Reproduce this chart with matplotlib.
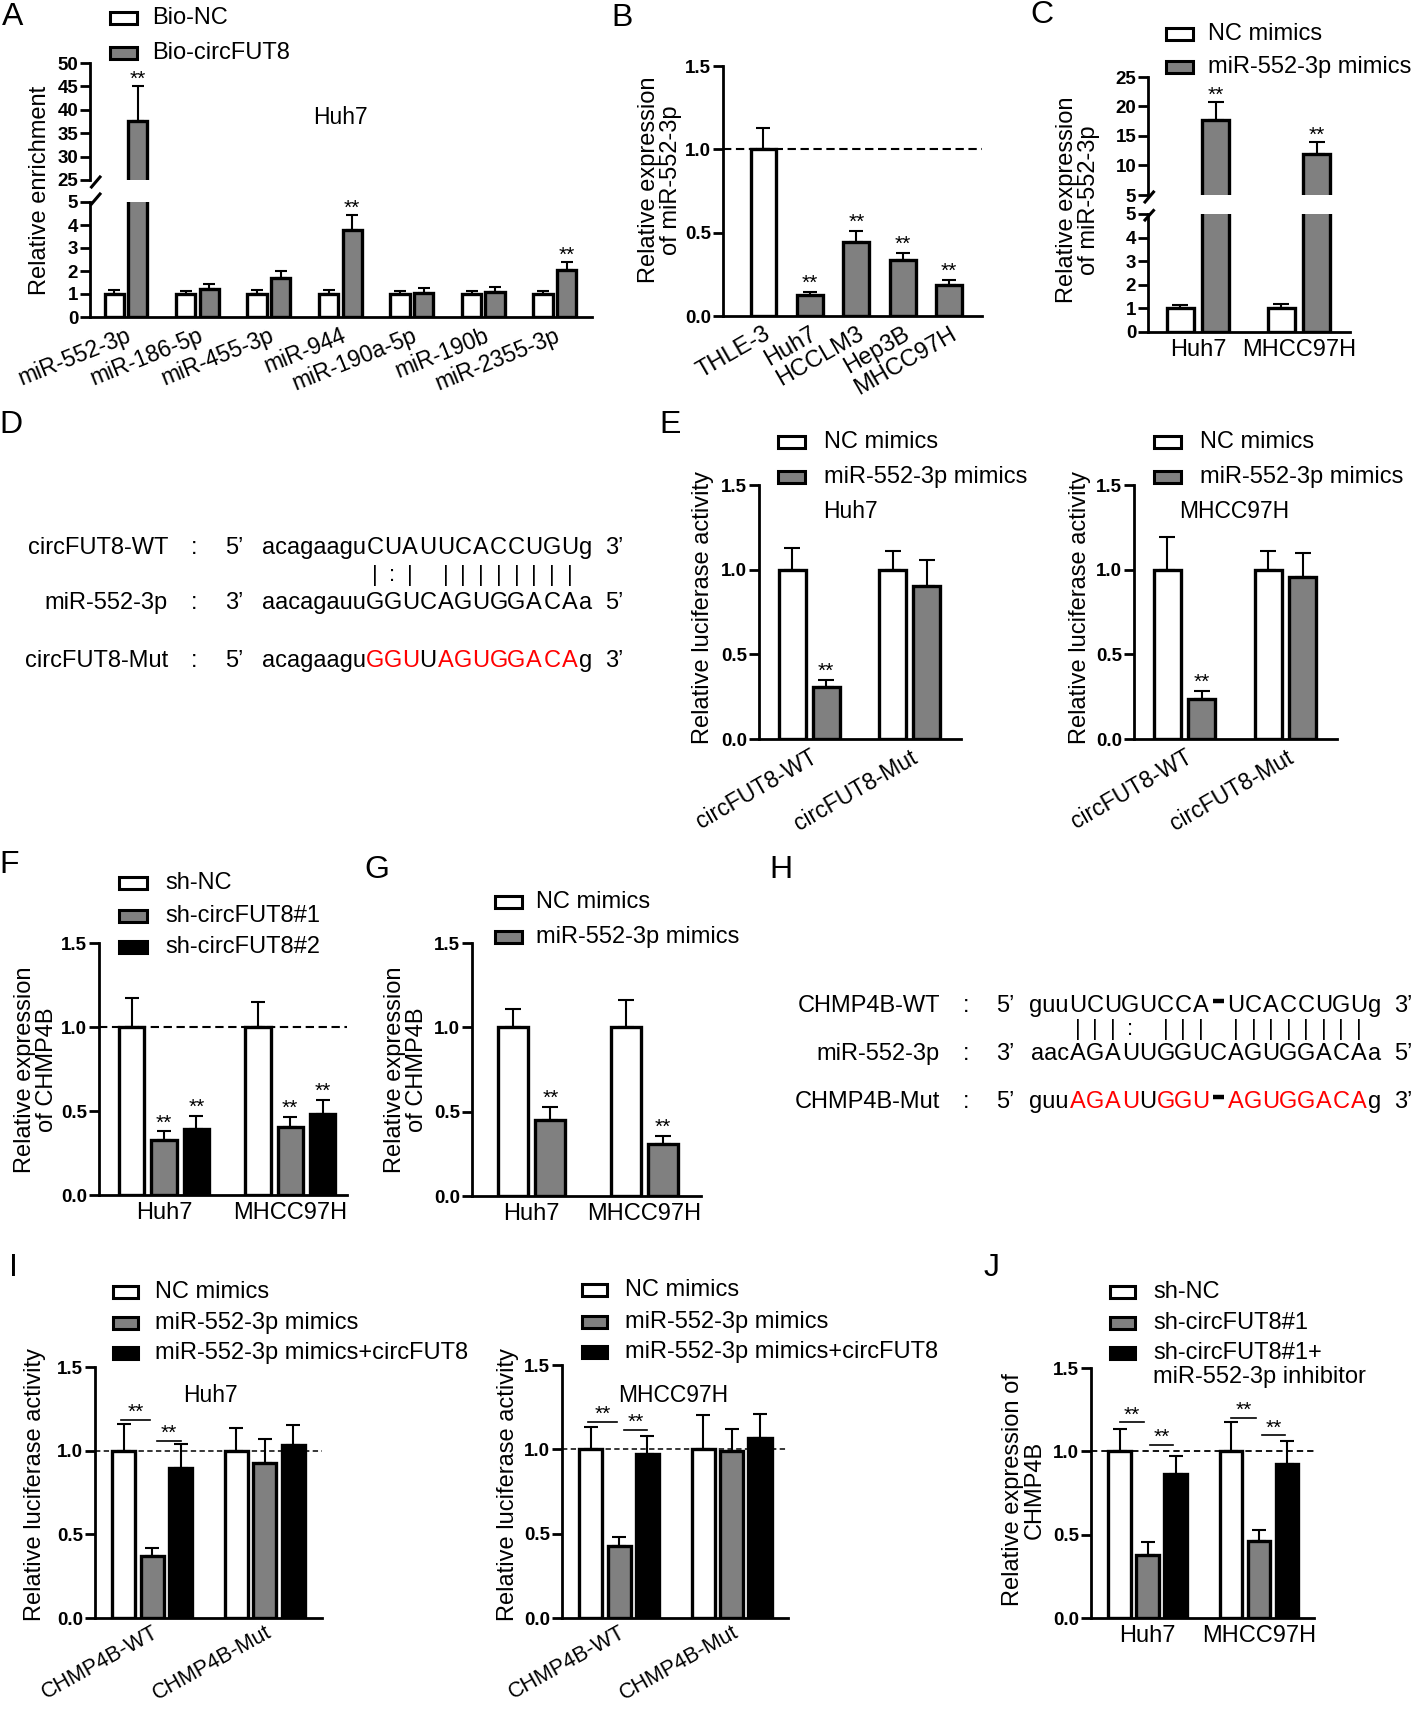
import numpy as np
import matplotlib
matplotlib.use("Agg")
import matplotlib.pyplot as plt
from matplotlib.patches import Rectangle
from matplotlib.lines import Line2D
from matplotlib import font_manager

# ---------------------------------------------------------------- data
A_cats = ["miR-552-3p", "miR-186-5p", "miR-455-3p", "miR-944", "miR-190a-5p", "miR-190b", "miR-2355-3p"]
A_nc = [1.0, 1.0, 1.0, 1.0, 1.0, 1.0, 1.0]
A_nc_err = [0.17, 0.11, 0.17, 0.19, 0.11, 0.11, 0.14]
A_circ = [37.5, 1.2, 1.68, 3.8, 1.04, 1.1, 2.03]
A_circ_err = [7.5, 0.22, 0.33, 0.63, 0.2, 0.19, 0.37]
A_stars = [True, False, False, True, False, False, True]
A_legend = ["Bio-NC", "Bio-circFUT8"]

B_cats = ["THLE-3", "Huh7", "HCCLM3", "Hep3B", "MHCC97H"]
B_vals = [1.0, 0.125, 0.445, 0.335, 0.185]
B_err = [0.128, 0.02, 0.067, 0.044, 0.032]
B_stars = [False, True, True, True, True]

C_cats = ["Huh7", "MHCC97H"]
C_nc = [1.0, 1.0]
C_nc_err = [0.16, 0.2]
C_mim = [17.7, 12.0]
C_mim_err = [3.1, 1.9]
C_legend = ["NC mimics", "miR-552-3p mimics"]

D_labels = ["circFUT8-WT", "miR-552-3p", "circFUT8-Mut"]
D_end5 = ["5\u2019", "3\u2019", "5\u2019"]
D_prefix = ["acagaagu", "aacagauu", "acagaagu"]
D_core = ["CUAUUCACCUGU", "GGUCAGUGGACA", "GGUUAGUGGACA"]
D_suffix = ["g", "a", "g"]
D_end3 = ["3\u2019", "5\u2019", "3\u2019"]
D_mut_red = "RRRKRRRRRRRR"
D_pairs = "|:| ||||||||"

E_cats = ["circFUT8-WT", "circFUT8-Mut"]
E_huh_nc = [1.0, 1.0]
E_huh_nc_err = [0.126, 0.11]
E_huh_mim = [0.31, 0.905]
E_huh_mim_err = [0.04, 0.155]
E_mh_nc = [1.0, 1.0]
E_mh_nc_err = [0.195, 0.112]
E_mh_mim = [0.236, 0.955]
E_mh_mim_err = [0.05, 0.145]
E_legend = ["NC mimics", "miR-552-3p mimics"]

F_cats = ["Huh7", "MHCC97H"]
F_nc = [1.0, 1.0]
F_nc_err = [0.17, 0.146]
F_sh1 = [0.328, 0.407]
F_sh1_err = [0.05, 0.06]
F_sh2 = [0.39, 0.483]
F_sh2_err = [0.08, 0.083]
F_legend = ["sh-NC", "sh-circFUT8#1", "sh-circFUT8#2"]

G_cats = ["Huh7", "MHCC97H"]
G_nc = [1.0, 1.0]
G_nc_err = [0.111, 0.164]
G_mim = [0.448, 0.307]
G_mim_err = [0.079, 0.051]
G_legend = ["NC mimics", "miR-552-3p mimics"]

H_labels = ["CHMP4B-WT", "miR-552-3p", "CHMP4B-Mut"]
H_end5 = ["5\u2019", "3\u2019", "5\u2019"]
H_prefix = ["guu", "aac", "guu"]
H_core = ["UCUGUCCA-UCACCUGU", "AGAUUGGUCAGUGGACA", "AGAUUGGU-AGUGGACA"]
H_suffix = ["g", "a", "g"]
H_end3 = ["3\u2019", "5\u2019", "3\u2019"]
H_mut_red = "RRRRKRRRKRRRRRRRR"
H_pairs = "|||: ||| ||||||||"

I_cats = ["CHMP4B-WT", "CHMP4B-Mut"]
I_huh_nc = [1.0, 1.0]
I_huh_nc_err = [0.162, 0.138]
I_huh_mim = [0.372, 0.924]
I_huh_mim_err = [0.045, 0.145]
I_huh_circ = [0.894, 1.033]
I_huh_circ_err = [0.143, 0.12]
I_huh_brackets = [1.186, 1.057]
I_mh_nc = [1.0, 1.0]
I_mh_nc_err = [0.134, 0.201]
I_mh_mim = [0.427, 0.99]
I_mh_mim_err = [0.054, 0.13]
I_mh_circ = [0.97, 1.065]
I_mh_circ_err = [0.11, 0.142]
I_mh_brackets = [1.164, 1.114]
I_legend = ["NC mimics", "miR-552-3p mimics", "miR-552-3p mimics+circFUT8"]

J_cats = ["Huh7", "MHCC97H"]
J_nc = [1.0, 1.0]
J_nc_err = [0.134, 0.176]
J_sh = [0.38, 0.46]
J_sh_err = [0.074, 0.07]
J_inh = [0.866, 0.924]
J_inh_err = [0.104, 0.14]
J_brackets1 = [1.174, 1.2]
J_brackets2 = [1.04, 1.096]
J_legend = ["sh-NC", "sh-circFUT8#1", "sh-circFUT8#1+", "miR-552-3p inhibitor"]

# ---------------------------------------------------------------- setup
W, H = 1416, 1710
fig = plt.figure(figsize=(W / 100, H / 100), dpi=100)
avail = {f.name for f in font_manager.fontManager.ttflist}
FONT = "Liberation Sans" if "Liberation Sans" in avail else "DejaVu Sans"
plt.rcParams["font.family"] = [FONT, "DejaVu Sans"]

GRAY = "#808080"
SPINE = 2.0
BAR_LW = 2.4
TICK_FS = 13.5
LAB_FS = 17
CAT_FS = 17
LEG_FS = 17


def ftext(x, y, s, **kw):
    return fig.text(x / W, 1 - y / H, s, **kw)


def fline(xs, ys, **kw):
    fig.add_artist(Line2D([x / W for x in xs], [1 - y / H for y in ys],
                          transform=fig.transFigure, color="black", **kw))


def make_ax(x0, ytop, x1, ybot, bottom=True):
    ax = fig.add_axes([x0 / W, 1 - ybot / H, (x1 - x0) / W, (ybot - ytop) / H])
    ax.patch.set_alpha(0)
    for s in ("top", "right"):
        ax.spines[s].set_visible(False)
    ax.spines["left"].set_linewidth(SPINE)
    ax.spines["bottom"].set_linewidth(SPINE)
    if not bottom:
        ax.spines["bottom"].set_visible(False)
    ax.tick_params(axis="y", width=SPINE, length=7, labelsize=TICK_FS, pad=1.5)
    ax.tick_params(axis="x", length=0, labelsize=CAT_FS, pad=5)
    return ax


def set_yt(ax, ticks, labels):
    ax.set_yticks(ticks)
    ax.set_yticklabels(labels, fontweight="bold")


def grouped(ax, series, errs, colors, pitch, width, stars=None, ymax=None, ymin=None, cap=5):
    k = len(series)
    n = len(series[0])
    base = np.arange(n)
    xs = []
    for i in range(k):
        x = base + (i - (k - 1) / 2) * pitch
        v = np.asarray(series[i], float)
        e = np.asarray(errs[i], float)
        ax.errorbar(x, v, yerr=[np.zeros(n), e], fmt="none", ecolor="black",
                    elinewidth=1.5, capsize=cap, capthick=1.5, zorder=2)
        ax.bar(x, v, width, color=colors[i], edgecolor="black", linewidth=BAR_LW, zorder=3)
        if stars is not None:
            for xi, vi, ei, s in zip(x, v, e, stars[i]):
                top = vi + ei
                if not s:
                    continue
                if ymax is not None and top > ymax:
                    continue
                if ymin is not None and top < ymin:
                    continue
                ax.text(xi, top + (ax.get_ylim()[1] - ax.get_ylim()[0]) * 0.012, "**",
                        ha="center", va="baseline", fontsize=15)
        xs.append(x)
    return xs


def legend_px(x_box, ys, colors, labels, x_text, w=27, h=12, fs=LEG_FS):
    for y, c, lab in zip(ys, colors, labels):
        fig.add_artist(Rectangle((x_box / W, 1 - (y + h / 2) / H), w / W, h / H,
                                 transform=fig.transFigure, facecolor=c,
                                 edgecolor="black", lw=2.2))
        ftext(x_text, y, lab, ha="left", va="center", fontsize=fs)


def dashed(ax, lw=1.5, pat=(4, 2.2)):
    ax.axhline(1.0, color="black", lw=lw, linestyle=(0, pat), zorder=1)


def bracket(ax, x1, x2, y):
    ax.plot([x1, x2], [y, y], color="black", lw=1.2, zorder=4)
    ax.text((x1 + x2) / 2, y + 0.012, "**", ha="center", va="baseline", fontsize=15)


def rot_labels(ax, labels, rot, fs=CAT_FS, pad=5):
    ax.set_xticks(np.arange(len(labels)))
    ax.set_xticklabels(labels, rotation=rot, ha="right", va="top",
                       rotation_mode="anchor", fontsize=fs)
    ax.tick_params(axis="x", pad=pad)


def panel_letter(x, y, s):
    ftext(x, y, s, ha="center", va="center", fontsize=23)


def ylabel(x, y, s, fs=LAB_FS):
    ftext(x, y, s, rotation=90, ha="center", va="center", fontsize=fs,
          linespacing=1.0, multialignment="center")


lim01 = [0.0, 0.5, 1.0, 1.5]
lab01 = ["0.0", "0.5", "1.0", "1.5"]

# ---------------------------------------------------------------- A
A_lo = make_ax(90, 202, 592, 317)
A_hi = make_ax(90, 63, 592, 180, bottom=False)
for ax in (A_lo, A_hi):
    ax.set_xlim(-0.503, 6.52)
A_lo.set_ylim(0, 5)
A_hi.set_ylim(25, 50)
for ax, ymx, ymn in ((A_lo, 5, None), (A_hi, None, 25)):
    grouped(ax, [A_nc, A_circ], [A_nc_err, A_circ_err], ["white", GRAY], 0.33, 0.27,
            stars=[[False] * 7, A_stars], ymax=ymx, ymin=ymn, cap=4.5)
set_yt(A_lo, [0, 1, 2, 3, 4, 5], ["0", "1", "2", "3", "4", "5"])
set_yt(A_hi, [25, 30, 35, 40, 45, 50], ["25", "30", "35", "40", "45", "50"])
A_hi.set_xticks([])
rot_labels(A_lo, A_cats, 22, fs=16.5)
fline([91.5, 100], [187, 177], lw=2.2)
fline([91.5, 100], [204, 194], lw=2.2)
ylabel(40, 190, "Relative enrichment")
ftext(340, 118, "Huh7", ha="center", va="center", fontsize=16.5)
legend_px(110, [18, 53], ["white", GRAY], A_legend, 152)
panel_letter(13, 17, "A")

# ---------------------------------------------------------------- B
B_ax = make_ax(723, 66, 982, 316)
B_ax.set_xlim(-0.873, 4.71)
B_ax.set_ylim(0, 1.5)
dashed(B_ax)
grouped(B_ax, [B_vals], [B_err], [["white", GRAY, GRAY, GRAY, GRAY]], 0, 0.56,
        stars=[B_stars], cap=5)
set_yt(B_ax, lim01, lab01)
rot_labels(B_ax, B_cats, 30)
ylabel(660, 180, "Relative expression\nof miR-552-3p")
panel_letter(622, 18, "B")

# ---------------------------------------------------------------- C
C_lo = make_ax(1148, 214, 1350, 332)
C_hi = make_ax(1148, 77, 1350, 195, bottom=False)
for ax in (C_lo, C_hi):
    ax.set_xlim(-0.495, 1.505)
C_lo.set_ylim(0, 5)
C_hi.set_ylim(5, 25)
for ax, ymx, ymn in ((C_lo, 5, None), (C_hi, None, 5)):
    grouped(ax, [C_nc, C_mim], [C_nc_err, C_mim_err], ["white", GRAY], 0.35, 0.27,
            stars=[[False, False], [True, True]], ymax=ymx, ymin=ymn, cap=6)
set_yt(C_lo, [0, 1, 2, 3, 4, 5], ["0", "1", "2", "3", "4", "5"])
set_yt(C_hi, [5, 10, 15, 20, 25], ["5", "10", "15", "20", "25"])
C_hi.set_xticks([])
C_lo.set_xticks([0, 1])
C_lo.set_xticklabels(C_cats, fontsize=CAT_FS)
fline([1145, 1153.5], [202, 192], lw=2.2)
fline([1145, 1153.5], [220, 210.5], lw=2.2)
ylabel(1078, 200, "Relative expression\nof miR-552-3p")
legend_px(1166, [34, 67], ["white", GRAY], C_legend, 1208)
panel_letter(1042, 15, "C")


# ---------------------------------------------------------------- sequences
def draw_seq(label_x, colon_x, p5_x, core_x0, pitch, end_x, baselines, labels, end5,
             prefix, core, suffix, end3, red_mask, pairs, pair_y, size=17):
    for r in range(3):
        y = baselines[r]
        ftext(label_x, y, labels[r], ha="right", va="baseline", fontsize=size)
        ftext(colon_x, y, ":", ha="center", va="baseline", fontsize=size)
        ftext(p5_x, y, end5[r], ha="left", va="baseline", fontsize=size)
        ftext(core_x0, y, prefix[r], ha="right", va="baseline", fontsize=size)
        for i, ch in enumerate(core[r]):
            cx = core_x0 + pitch * (i + 0.5)
            if ch == "-":
                fline([cx - 5.5, cx + 5.5], [y - 11, y - 11], lw=3.2, solid_capstyle="butt")
                continue
            color = "red" if (r == 2 and red_mask[i] == "R") else "black"
            ftext(cx, y, ch, ha="center", va="baseline", fontsize=size, color=color)
        ftext(core_x0 + pitch * len(core[r]) + 0.5, y, suffix[r], ha="left",
              va="baseline", fontsize=size)
        ftext(end_x, y, end3[r], ha="left", va="baseline", fontsize=size)
    for i, ch in enumerate(pairs):
        if ch != " ":
            ftext(core_x0 + pitch * (i + 0.5), pair_y, ch, ha="center", va="baseline",
                  fontsize=16)


draw_seq(168, 194, 225, 366, 17.7, 605, [554, 609, 667], D_labels, D_end5, D_prefix,
         D_core, D_suffix, D_end3, D_mut_red, D_pairs, 581)
panel_letter(11, 425, "D")

draw_seq(940, 966, 996, 1069, 17.56, 1394, [1012, 1060, 1108], H_labels, H_end5, H_prefix,
         H_core, H_suffix, H_end3, H_mut_red, H_pairs, 1035)
panel_letter(781, 870, "H")

# ---------------------------------------------------------------- E
E_specs = [
    (759, 961, -0.5, 1.51, E_huh_nc, E_huh_nc_err, E_huh_mim, E_huh_mim_err, 703, 778, 824, "Huh7", 850),
    (1134, 1336.5, -0.5, 1.505, E_mh_nc, E_mh_nc_err, E_mh_mim, E_mh_mim_err, 1080, 1154, 1200, "MHCC97H", 1234),
]
for (x0, x1, xl, xr, nc, nce, mm, mme, ylx, lbx, ltx, cell, cellx) in E_specs:
    ax = make_ax(x0, 485, x1, 739)
    ax.set_xlim(xl, xr)
    ax.set_ylim(0, 1.5)
    grouped(ax, [nc, mm], [nce, mme], ["white", GRAY], 0.338, 0.27,
            stars=[[False, False], [True, False]], cap=6)
    set_yt(ax, lim01, lab01)
    rot_labels(ax, E_cats, 30, fs=16.5)
    ylabel(ylx, 607, "Relative luciferase activity")
    legend_px(lbx, [442, 477], ["white", GRAY], E_legend, ltx)
    ftext(cellx, 512, cell, ha="center", va="center", fontsize=16.5)
panel_letter(670, 425, "E")

# ---------------------------------------------------------------- F
F_ax = make_ax(99, 943, 347, 1195)
F_ax.set_xlim(-0.516, 1.45)
F_ax.set_ylim(0, 1.5)
dashed(F_ax)
grouped(F_ax, [F_nc, F_sh1, F_sh2], [F_nc_err, F_sh1_err, F_sh2_err], ["white", GRAY, "black"],
        0.256, 0.2, stars=[[False, False], [True, True], [True, True]], cap=5)
set_yt(F_ax, lim01, lab01)
F_ax.set_xticks([0, 1])
F_ax.set_xticklabels(F_cats, fontsize=CAT_FS)
ylabel(36, 1070, "Relative expression\nof CHMP4B")
legend_px(119, [883, 916, 947], ["white", GRAY, "black"], F_legend, 165, w=28)
panel_letter(9, 865, "F")

# ---------------------------------------------------------------- G
G_ax = make_ax(472, 943, 701, 1196)
G_ax.set_xlim(-0.53, 1.5)
G_ax.set_ylim(0, 1.5)
grouped(G_ax, [G_nc, G_mim], [G_nc_err, G_mim_err], ["white", GRAY], 0.33, 0.265,
        stars=[[False, False], [True, True]], cap=6)
set_yt(G_ax, lim01, lab01)
G_ax.set_xticks([0, 1])
G_ax.set_xticklabels(G_cats, fontsize=CAT_FS)
ylabel(406, 1070, "Relative expression\nof CHMP4B")
legend_px(495, [902, 937], ["white", GRAY], G_legend, 536)
panel_letter(377, 870, "G")

# ---------------------------------------------------------------- I
I_specs = [
    (95, 322, -0.507, 1.51, 1367, [I_huh_nc, I_huh_mim, I_huh_circ],
     [I_huh_nc_err, I_huh_mim_err, I_huh_circ_err], I_huh_brackets, 35, 113, 155,
     [1292, 1323, 1353], "Huh7", 210),
    (562, 788, -0.507, 1.502, 1365, [I_mh_nc, I_mh_mim, I_mh_circ],
     [I_mh_nc_err, I_mh_mim_err, I_mh_circ_err], I_mh_brackets, 508, 582, 625,
     [1290, 1322, 1352], "MHCC97H", 673),
]
for (x0, x1, xl, xr, ytop, ser, errs, br, ylx, lbx, ltx, lys, cell, cellx) in I_specs:
    ax = make_ax(x0, ytop, x1, 1618)
    ax.set_xlim(xl, xr)
    ax.set_ylim(0, 1.5)
    dashed(ax, lw=1.1, pat=(3.5, 2.2))
    xs = grouped(ax, ser, errs, ["white", GRAY, "black"], 0.253, 0.205, cap=5)
    bracket(ax, xs[0][0] - 0.02, xs[1][0] - 0.02, br[0])
    bracket(ax, xs[1][0] + 0.04, xs[2][0] + 0.0, br[1])
    set_yt(ax, lim01, lab01)
    rot_labels(ax, I_cats, 29, fs=15.5, pad=3)
    ylabel(ylx, 1484, "Relative luciferase activity")
    legend_px(lbx, lys, ["white", GRAY, "black"], I_legend, ltx, w=25)
    ftext(cellx, 1395, cell, ha="center", va="center", fontsize=16.5)
panel_letter(13, 1268, "I")

# ---------------------------------------------------------------- J
J_ax = make_ax(1091, 1368, 1314, 1618)
J_ax.set_xlim(-0.507, 1.49)
J_ax.set_ylim(0, 1.5)
dashed(J_ax, lw=1.3, pat=(3.5, 2.2))
xs = grouped(J_ax, [J_nc, J_sh, J_inh], [J_nc_err, J_sh_err, J_inh_err],
             ["white", GRAY, "black"], 0.251, 0.2, cap=5)
for g in range(2):
    bracket(J_ax, xs[0][g], xs[1][g] - 0.03, J_brackets1[g])
    bracket(J_ax, xs[1][g] + 0.02, xs[2][g] - 0.02, J_brackets2[g])
set_yt(J_ax, lim01, lab01)
J_ax.set_xticks([0, 1])
J_ax.set_xticklabels(J_cats, fontsize=CAT_FS)
ylabel(1024, 1490, "Relative expression of\nCHMP4B")
legend_px(1110, [1292, 1323, 1353], ["white", GRAY, "black"], J_legend[:3], 1153, w=25)
ftext(1153, 1377, J_legend[3], ha="left", va="center", fontsize=LEG_FS)
panel_letter(992, 1268, "J")

fig.savefig("out.png", dpi=100)
